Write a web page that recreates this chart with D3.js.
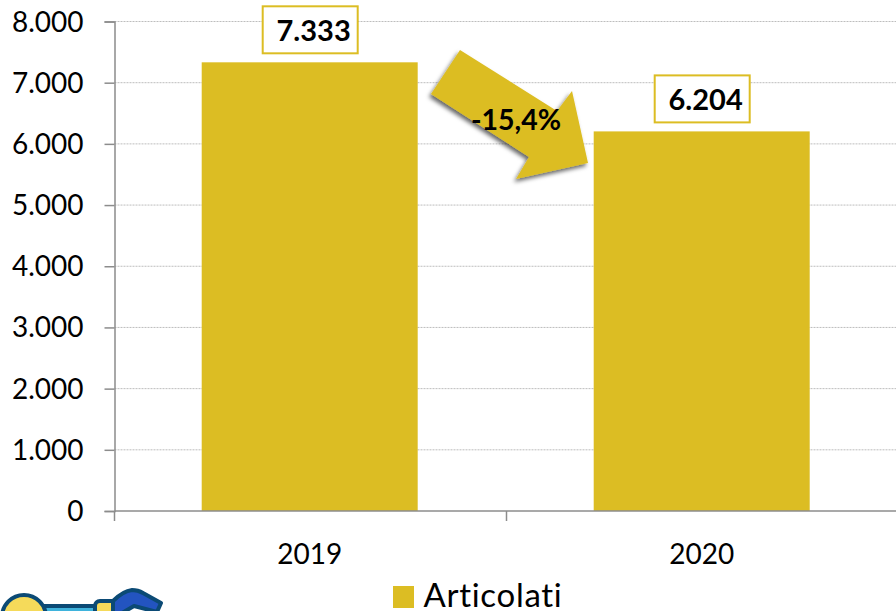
<!DOCTYPE html>
<html>
<head>
<meta charset="utf-8">
<script src="https://cdn.jsdelivr.net/npm/d3@7"></script>
<style>
  html, body { margin: 0; padding: 0; background: #fff; overflow: hidden; }
  text { font-family: Lato, "Open Sans", sans-serif; fill: #000; }
</style>
</head>
<body>
<svg id="chart" width="896" height="611"></svg>
<script>
// Values
const years = ["2019", "2020"];
const articolati = [7333, 6204];
const valueLabels = ["7.333", "6.204"];
const yTicks = [0, 1000, 2000, 3000, 4000, 5000, 6000, 7000, 8000];
const seriesName = "Articolati";
const changeLabel = "-15,4%";

const gold = "#dcbd23";

let margin = {top: 21.5, left: 114.5, bottom: 100, right: -2.5};
let width = 896 - margin.left - margin.right;
let height = 611 - margin.top - margin.bottom;

let svg = d3.select("#chart");

// drop shadow for the arrow
let filter = svg.append("defs").append("filter")
    .attr("id", "shadow")
    .attr("x", "-20%").attr("y", "-20%")
    .attr("width", "140%").attr("height", "140%");
filter.append("feDropShadow")
    .attr("dx", -2).attr("dy", 3)
    .attr("stdDeviation", 2)
    .attr("flood-color", "#000")
    .attr("flood-opacity", 0.6);

let g = svg.append("g")
    .attr("transform", `translate(${margin.left}, ${margin.top})`);

let x = d3.scaleBand().domain(years).range([-0.8, width - 0.8]).paddingInner(0.449).paddingOuter(0.2245);
let y = d3.scaleLinear().domain([0, 8000]).range([height, 0]);

// Gridlines
g.append("g").selectAll("line")
    .data(yTicks.slice(1))
    .join("line")
    .attr("x1", 0).attr("x2", width)
    .attr("y1", d => y(d)).attr("y2", d => y(d))
    .attr("stroke", "#bdbdbd")
    .attr("stroke-width", 1)
    .attr("stroke-dasharray", "2,1");

// Bars
g.append("g").selectAll("rect")
    .data(articolati)
    .join("rect")
    .attr("x", (d, i) => x(years[i]))
    .attr("y", d => y(d))
    .attr("width", x.bandwidth())
    .attr("height", d => height - y(d))
    .attr("fill", gold);

// Y axis
let yAxis = g.append("g")
    .call(d3.axisLeft(y).tickValues(yTicks).tickSize(10).tickPadding(21)
      .tickFormat(d => d3.format(",")(d).replace(",", ".")));
yAxis.select(".domain").attr("stroke", "#8c8c8c").attr("stroke-width", 1.5);
yAxis.selectAll(".tick line").attr("stroke", "#8c8c8c").attr("stroke-width", 1.5);
yAxis.selectAll("text").attr("font-size", 28).attr("dy", "0.34em");

// X axis, ticks sit between the categories
let step = x.step();
let xBase = g.append("g").attr("transform", `translate(0, ${height})`);
xBase.append("line")
    .attr("x1", 0).attr("x2", width)
    .attr("stroke", "#8c8c8c").attr("stroke-width", 1.5);
xBase.selectAll("line.tick")
    .data(d3.range(years.length + 1))
    .join("line")
    .attr("class", "tick")
    .attr("x1", d => d * step).attr("x2", d => d * step)
    .attr("y1", 0).attr("y2", 10)
    .attr("stroke", "#8c8c8c").attr("stroke-width", 1.5);
xBase.selectAll("text")
    .data(years)
    .join("text")
    .attr("x", d => x(d) + x.bandwidth() / 2)
    .attr("y", 53)
    .attr("text-anchor", "middle")
    .attr("font-size", 28)
    .text(d => d);

// Value labels in boxes
let labels = g.append("g").selectAll("g")
    .data(articolati)
    .join("g")
    .attr("transform", (d, i) => `translate(${x(years[i]) + x.bandwidth() / 2}, ${y(d) - 32})`);
labels.append("rect")
    .attr("x", -47).attr("y", -24)
    .attr("width", 95).attr("height", 47)
    .attr("fill", "#fff")
    .attr("stroke", gold)
    .attr("stroke-width", 2);
labels.append("text")
    .attr("x", 41)
    .attr("y", 11)
    .attr("text-anchor", "end")
    .attr("font-size", 29)
    .attr("font-weight", 700)
    .text((d, i) => valueLabels[i]);

// Arrow between the bars
let arrowShape = [[460, 50], [557, 111], [572, 91], [588, 163], [516, 179], [529, 157], [431, 94]];
svg.append("polygon")
    .attr("points", arrowShape.join(" "))
    .attr("fill", gold)
    .attr("filter", "url(#shadow)");
svg.append("text")
    .attr("x", 516).attr("y", 130)
    .attr("text-anchor", "middle")
    .attr("font-size", 28.5)
    .attr("font-weight", 700)
    .text(changeLabel);

// Legend
svg.append("rect")
    .attr("x", 393).attr("y", 586)
    .attr("width", 21).attr("height", 22)
    .attr("fill", gold);
svg.append("text")
    .attr("x", 423.5).attr("y", 607)
    .attr("font-size", 33)
    .attr("letter-spacing", 0.7)
    .text(seriesName);

// Clipart cut off by the bottom edge
let icon = svg.append("g").attr("stroke", "#0b4a75").attr("stroke-width", 4).attr("stroke-linejoin", "round");
icon.append("rect").attr("x", 40).attr("y", 606).attr("width", 60).attr("height", 20).attr("fill", "#3fb3dc");
icon.append("circle").attr("cx", 24).attr("cy", 617).attr("r", 22).attr("fill", "#f5da5a");
icon.append("rect").attr("x", 95).attr("y", 601).attr("width", 24).attr("height", 24).attr("rx", 5).attr("fill", "#f5da5a");
icon.append("path").attr("d", "M113 601 Q123 591 132 590 Q138 590 143 593 L161 603 L157 612 L134 606 L122 613 L113 625 Z").attr("fill", "#2354c0");
</script>
</body>
</html>
